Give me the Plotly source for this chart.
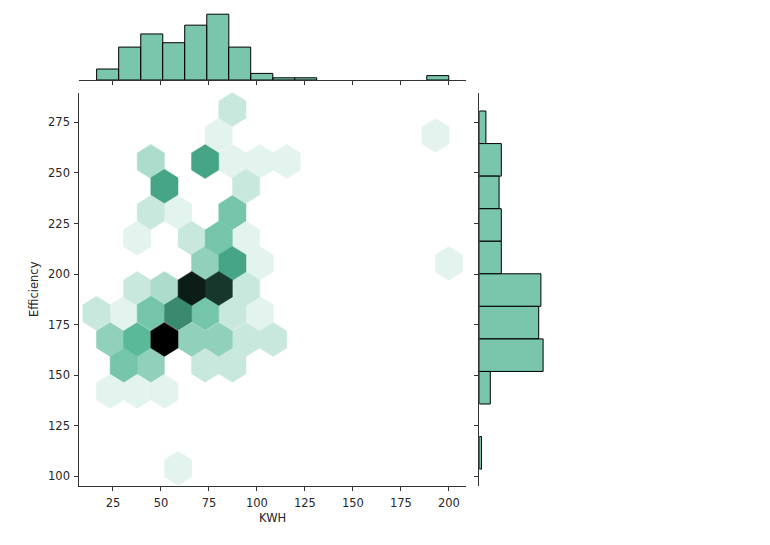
import colorsys
import plotly.graph_objects as go

# Hexbin cells (KWH, Efficiency, count)
hex_x = [87.2, 80.1, 193.0, 44.7, 73.0, 87.2, 101.4, 115.5, 51.8, 94.3,
         44.7, 58.9, 87.2, 37.6, 66.0, 80.1, 94.3, 73.0, 87.2, 101.4,
         37.6, 51.8, 66.0, 80.1, 94.3,
         16.4, 30.6, 44.7, 58.9, 73.0, 87.2, 101.4,
         23.5, 37.6, 51.8, 66.0, 80.1, 94.3, 108.4,
         30.6, 44.7, 73.0, 87.2, 23.5, 37.6, 51.8, 58.9, 200.0]
hex_y = [281.4, 268.6, 268.6, 255.7, 255.7, 255.7, 255.7, 255.7, 243.4, 243.4,
         230.5, 230.5, 230.5, 217.7, 217.7, 217.7, 217.7, 205.3, 205.3, 205.3,
         192.9, 192.9, 192.9, 192.9, 192.9,
         180.6, 180.6, 180.6, 180.6, 180.6, 180.6, 180.6,
         167.7, 167.7, 167.7, 167.7, 167.7, 167.7, 167.7,
         154.9, 154.9, 154.9, 154.9, 142.0, 142.0, 142.0, 104.0, 205.3]
hex_count = [2, 1, 1, 3, 7, 1, 1, 1, 7, 2,
             2, 1, 5, 1, 2, 5, 1, 4, 7, 1,
             2, 3, 12, 11, 2,
             2, 1, 5, 8, 5, 2, 1,
             4, 6, 13, 4, 4, 2, 2,
             5, 4, 2, 2, 1, 1, 1, 1, 1]

# Top histogram
kwh_centers = [22.2, 33.7, 45.2, 56.6, 68.1, 79.6, 91.0, 102.5, 114.0, 125.4, 194.2]
kwh_counts = [5, 15, 21, 17, 25, 30, 15, 3, 1, 1, 2]

# Right histogram
eff_centers = [272.6, 256.5, 240.4, 224.3, 208.2, 192.1, 176.0, 159.9, 143.8, 111.6]
eff_counts = [3, 10, 9, 10, 10, 28, 27, 29, 5, 1]

xticks = [25, 50, 75, 100, 125, 150, 175, 200]
yticks = [100, 125, 150, 175, 200, 225, 250, 275]

BASE = "#4CB391"
HIST_FILL = "rgba(76,179,145,0.75)"
AX = "#333333"
MAX_COUNT = 13
HEX_HALF_W = 7.08
HEX_R = 8.4
PAGE_MARGIN = 8
W, H = 770 - 2 * PAGE_MARGIN, 545 - 2 * PAGE_MARGIN


def fx(px):
    return (px - PAGE_MARGIN) / W


def fy(py):
    return 1 - (py - PAGE_MARGIN) / H


def shade(count):
    r, g, b = [int(BASE[i:i + 2], 16) / 255 for i in (1, 3, 5)]
    h, _, s = colorsys.rgb_to_hls(r, g, b)
    rr, gg, bb = colorsys.hls_to_rgb(h, 1 - count / MAX_COUNT, s)
    return f"rgb({rr * 255:.0f},{gg * 255:.0f},{bb * 255:.0f})"


fig = go.Figure()

for level in sorted(set(hex_count)):
    xs, ys = [], []
    for cx, cy, c in zip(hex_x, hex_y, hex_count):
        if c != level:
            continue
        xs += [cx, cx + HEX_HALF_W, cx + HEX_HALF_W, cx, cx - HEX_HALF_W, cx - HEX_HALF_W, cx, None]
        ys += [cy + HEX_R, cy + HEX_R / 2, cy - HEX_R / 2, cy - HEX_R, cy - HEX_R / 2, cy + HEX_R / 2, cy + HEX_R, None]
    fig.add_trace(go.Scatter(x=xs, y=ys, mode="lines", fill="toself",
                             fillcolor=shade(level),
                             line=dict(color=shade(level), width=0.5),
                             xaxis="x", yaxis="y", showlegend=False))

fig.add_trace(go.Bar(x=kwh_centers, y=kwh_counts, width=11.47,
                     marker=dict(color=HIST_FILL, line=dict(color="black", width=1)),
                     xaxis="x2", yaxis="y2", showlegend=False))
fig.add_trace(go.Bar(y=eff_centers, x=eff_counts, width=16.09, orientation="h",
                     marker=dict(color=HIST_FILL, line=dict(color="black", width=1)),
                     xaxis="x3", yaxis="y3", showlegend=False))

main_x = [fx(79.3), fx(466)]
main_y = [fy(486), fy(92.5)]
x_range = [7.45, 208.9]
y_range = [95.2, 289.8]
tick = dict(ticks="outside", ticklen=4, tickwidth=1, tickcolor=AX,
            showline=True, linecolor=AX, linewidth=1, showgrid=False, zeroline=False)
tfont = dict(family="DejaVu Sans", size=11.5, color="#262626")

fig.update_layout(
    width=W, height=H, autosize=False,
    margin=dict(l=0, r=0, t=0, b=0),
    paper_bgcolor="white", plot_bgcolor="white",
    showlegend=False, barmode="overlay",
    xaxis=dict(domain=main_x, range=x_range, tickvals=xticks, anchor="y", ticklabelstandoff=2,
               title=dict(text="KWH", font=tfont, standoff=5), tickfont=tfont, **tick),
    yaxis=dict(domain=main_y, range=y_range, tickvals=yticks, anchor="x", ticklabelstandoff=2,
               title=dict(text="Efficiency", font=tfont, standoff=7), tickfont=tfont, **tick),
    xaxis2=dict(domain=main_x, range=x_range, tickvals=xticks, showticklabels=False, anchor="y2", **tick),
    yaxis2=dict(domain=[fy(80), fy(12)], range=[0, 31], visible=False, anchor="x2"),
    xaxis3=dict(domain=[fx(479.3), fx(547.5)], range=[0, 31], visible=False, anchor="y3"),
    yaxis3=dict(domain=main_y, range=y_range, tickvals=yticks, showticklabels=False, anchor="x3", **tick),
)

fig.write_html("out.html", config={"displayModeBar": False})
